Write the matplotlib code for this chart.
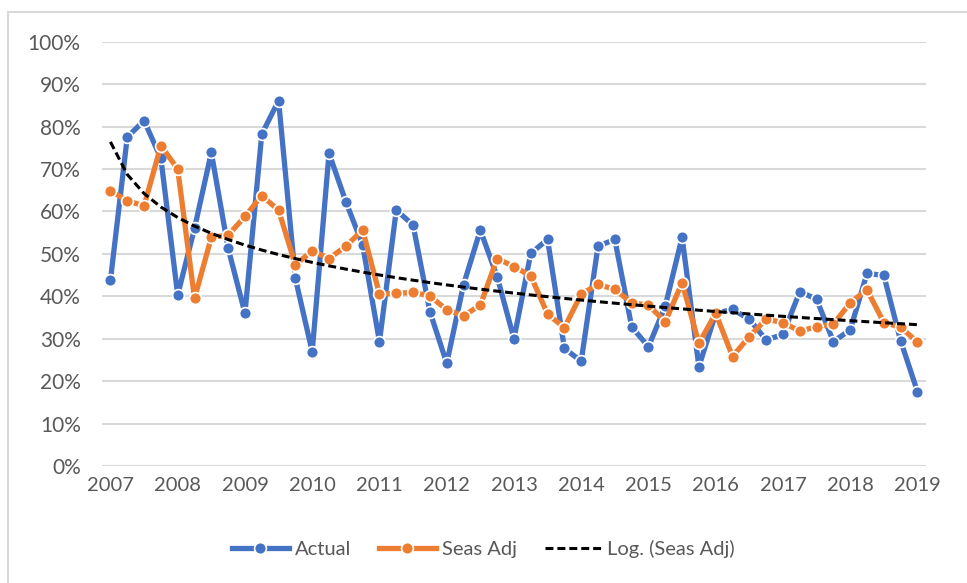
import numpy as np
import matplotlib.pyplot as plt
from matplotlib.patches import Rectangle

plt.rcParams['font.family'] = ['Lato', 'DejaVu Sans']

years = [str(y) for y in range(2007, 2020)]

# quarterly values, 2007 Q1 .. 2019 Q1 (percent)
actual = [43.8, 77.5, 81.4, 72.5, 40.3, 56.0, 73.9, 51.3, 36.0, 78.2, 86.1, 44.2,
          26.9, 73.7, 62.3, 52.1, 29.3, 60.3, 56.8, 36.4, 24.2, 42.7, 55.6, 44.6,
          30.0, 50.1, 53.4, 27.7, 24.7, 51.8, 53.4, 32.8, 28.1, 37.7, 53.9, 23.4,
          36.0, 36.9, 34.6, 29.7, 31.0, 41.1, 39.3, 29.3, 32.1, 45.4, 44.9, 29.5,
          17.5]
seas_adj = [64.9, 62.5, 61.3, 75.5, 70.0, 39.5, 53.9, 54.4, 58.8, 63.7, 60.3, 47.4,
            50.7, 48.9, 51.8, 55.6, 40.5, 40.7, 40.9, 40.1, 36.8, 35.4, 37.9, 48.9,
            47.0, 44.8, 35.8, 32.6, 40.5, 42.8, 41.6, 38.5, 37.9, 34.0, 43.2, 28.9,
            36.0, 25.8, 30.5, 34.6, 33.8, 31.8, 32.8, 33.4, 38.5, 41.5, 33.8, 32.7,
            29.2]

x = np.arange(len(actual))
# Excel-style logarithmic trendline on the seasonally adjusted series
b, a = np.polyfit(np.log(x + 1), seas_adj, 1)
trend = a + b * np.log(x + 1)

fig = plt.figure(figsize=(9.67, 5.83), dpi=100)
ax = fig.add_axes([0.105, 0.2007, 0.853, 0.7278])

grey = '#595959'
ax.plot(x, actual, color='#4472C4', lw=3.8, marker='o', ms=8.5,
        mfc='#4472C4', mec='white', mew=1.2, label='Actual', zorder=3,
        solid_joinstyle='round')
ax.plot(x, seas_adj, color='#ED7D31', lw=3.8, marker='o', ms=8.5,
        mfc='#ED7D31', mec='white', mew=1.2, label='Seas Adj', zorder=4,
        solid_joinstyle='round')
ax.plot(x, trend, color='black', lw=2.2, ls=(0, (2.6, 1.3)),
        label='Log. (Seas Adj)', zorder=5)

ax.set_xlim(-0.53, 48.53)
ax.set_ylim(0, 100)
ax.set_yticks(range(0, 101, 10))
ax.set_yticklabels([f'{v}%' for v in range(0, 101, 10)])
ax.set_xticks(range(0, 49, 4))
ax.set_xticklabels(years)
ax.grid(axis='y', color='#d9d9d9', lw=1.5)
ax.set_axisbelow(True)
for s in ax.spines.values():
    s.set_visible(False)
ax.tick_params(length=0, labelsize=14.5, colors=grey, pad=8)
ax.tick_params(axis='y', pad=15, labelsize=15)

leg = fig.legend(loc='center', bbox_to_anchor=(0.5, 0.058), ncol=3, frameon=False,
                 fontsize=14.5, handlelength=2.8, handletextpad=0.3,
                 columnspacing=1.4)
for t in leg.get_texts():
    t.set_color(grey)

# chart area border
fig.patches.append(Rectangle((8 / 967, -0.1), 1.2, 1.1 - 12 / 583,
                             transform=fig.transFigure, fill=False,
                             ec='#d9d9d9', lw=1.5))

fig.savefig('out.png', dpi=100)
